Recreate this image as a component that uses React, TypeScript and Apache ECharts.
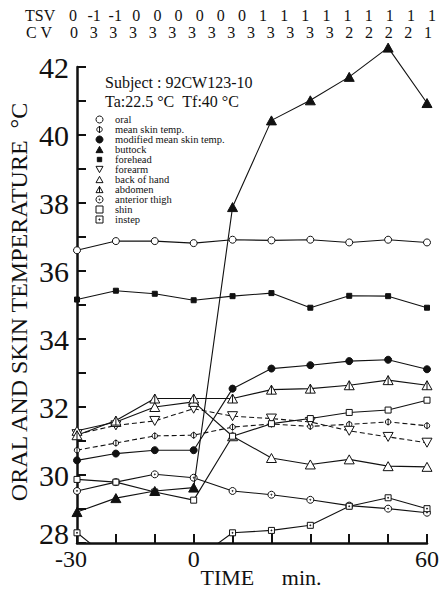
import React, { useEffect, useRef } from "react";
import * as echarts from "echarts";

const times = [-30, -20, -10, 0, 10, 20, 30, 40, 50, 60];
const oral = [36.61, 36.88, 36.88, 36.82, 36.92, 36.9, 36.92, 36.84, 36.92, 36.84];
const meanSkin = [30.73, 30.94, 31.15, 31.17, 31.41, 31.5, 31.43, 31.49, 31.56, 31.45];
const modifiedMeanSkin = [30.43, 30.63, 30.73, 30.73, 32.54, 33.13, 33.23, 33.35, 33.39, 33.11];
const buttock = [28.91, 29.32, 29.53, 29.63, 37.88, 40.43, 41.02, 41.71, 42.57, 40.94];
const forehead = [35.16, 35.42, 35.33, 35.14, 35.26, 35.35, 34.92, 35.27, 35.26, 34.92];
const forearm = [31.2, 31.46, 31.59, 31.95, 31.73, 31.66, 31.56, 31.3, 31.12, 30.95];
const backOfHand = [31.3, 31.56, 32.0, 32.15, 31.14, 30.5, 30.31, 30.46, 30.26, 30.24];
const abdomen = [31.17, 31.6, 32.25, 32.25, 32.25, 32.51, 32.54, 32.64, 32.79, 32.64];
const anteriorThigh = [29.53, 29.79, 30.02, 29.92, 29.53, 29.42, 29.27, 29.1, 29.01, 28.89];
const shin = [29.87, 29.79, 29.5, 29.26, 31.14, 31.51, 31.66, 31.84, 31.91, 32.2];
const instep = [28.3, 27.39, 27.35, 27.47, 28.3, 28.37, 28.52, 29.08, 29.33, 29.01];

const tsvValues = ["0", "-1", "-1", "0", "0", "0", "0", "0", "0", "1", "1", "1", "1", "1", "1", "1", "1", "1"];
const cvValues = ["0", "3", "3", "3", "3", "3", "3", "3", "3", "3", "3", "3", "3", "3", "2", "2", "2", "2", "1"];
const xLabelValues = [-30, 0, 60];

const SERIF = '"Liberation Serif", "DejaVu Serif", serif';
const INK = "#111";

const SYM = {
  phi: "path://M5,0 A5,5 0 1,1 4.99,0 Z M5,-1.5 L5,11.5",
  invTri: "path://M0,0 L10,0 L5,9 Z",
  tri: "path://M5,0 L10,9 L0,9 Z",
  triBar: "path://M5,0 L10,9 L0,9 Z M5,0 L5,9",
  dotCircle: "path://M5,0 A5,5 0 1,1 4.99,0 Z M5,4.3 A0.7,0.7 0 1,1 4.99,4.3 Z",
  square: "path://M0,0 L10,0 L10,10 L0,10 Z",
  dotSquare: "path://M0,0 L10,0 L10,10 L0,10 Z M4.3,4.3 L5.7,4.3 L5.7,5.7 L4.3,5.7 Z",
  fTri: "path://M5,0 L10,9 L0,9 Z",
  fSquare: "path://M0,0 L10,0 L10,10 L0,10 Z",
  smallSquare: "path://M-3,-3 M13,13 M0,0 L10,0 L10,10 L0,10 Z",
};

type Def = {
  name: string;
  values: number[];
  symbol: string;
  icon?: string;
  size: number;
  filled: boolean;
  dashed?: boolean;
  clip?: boolean;
};

const defs: Def[] = [
  { name: "oral", values: oral, symbol: "circle", size: 7, filled: false },
  { name: "mean skin temp.", values: meanSkin, symbol: SYM.phi, size: 7, filled: false, dashed: true },
  { name: "modified mean skin temp.", values: modifiedMeanSkin, symbol: "circle", size: 7, filled: true },
  { name: "buttock", values: buttock, symbol: SYM.fTri, size: 10, filled: true, clip: false },
  { name: "forehead", values: forehead, symbol: SYM.fSquare, icon: SYM.smallSquare, size: 5, filled: true },
  { name: "forearm", values: forearm, symbol: SYM.invTri, size: 10, filled: false, dashed: true },
  { name: "back of hand", values: backOfHand, symbol: SYM.tri, size: 10, filled: false },
  { name: "abdomen", values: abdomen, symbol: SYM.triBar, size: 10, filled: false },
  { name: "anterior thigh", values: anteriorThigh, symbol: SYM.dotCircle, size: 7, filled: false },
  { name: "shin", values: shin, symbol: SYM.square, size: 6, filled: false },
  { name: "instep", values: instep, symbol: SYM.dotSquare, size: 6, filled: false, clip: true },
];

export default function App() {
  const ref = useRef<HTMLDivElement>(null);

  useEffect(() => {
    document.body.style.margin = "0";
    if (!ref.current) return;
    const chart = echarts.init(ref.current, undefined, { renderer: "svg" });

    const series = defs.map((d) => ({
      name: d.name,
      type: "line",
      data: times.map((t, i) => [t, d.values[i]]),
      symbol: d.symbol,
      symbolSize: d.size,
      symbolKeepAspect: true,
      clip: d.clip === undefined ? false : d.clip,
      lineStyle: { color: INK, width: 1.1, type: d.dashed ? [5, 3] : "solid" },
      itemStyle: { color: d.filled ? INK : "#fff", borderColor: INK, borderWidth: 1 },
      emphasis: { disabled: true },
      z: d.filled ? 3 : 2,
    }));

    const slots = (n: number, x0: number, x1: number) =>
      Array.from({ length: n }, (_, i) => x0 + (i * (x1 - x0)) / (n - 1));
    const tsvX = slots(tsvValues.length, 73, 432);
    const cvX = slots(cvValues.length, 74, 428);

    const rowText = (txt: string, x: number, y: number, align = "center") => ({
      type: "text",
      x,
      y,
      silent: true,
      style: { text: txt, font: `16px ${SERIF}`, fill: INK, textAlign: align, textVerticalAlign: "middle" },
    });

    const graphic: any[] = [
      rowText("TSV", 25, 15, "left"),
      rowText("C V", 26, 32, "left"),
      ...tsvValues.map((v, i) => rowText(v, tsvX[i], 15)),
      ...cvValues.map((v, i) => rowText(v, cvX[i], 32)),
      {
        type: "text",
        x: 105,
        y: 82,
        silent: true,
        style: { text: "Subject : 92CW123-10", font: `16px ${SERIF}`, fill: INK, textVerticalAlign: "middle" },
      },
      {
        type: "text",
        x: 105,
        y: 101,
        silent: true,
        style: { text: "Ta:22.5 °C\u00a0\u00a0Tf:40 °C", font: `16px ${SERIF}`, fill: INK, textVerticalAlign: "middle" },
      },
      {
        type: "text",
        x: 19,
        y: 302,
        rotation: Math.PI / 2,
        silent: true,
        style: {
          text: "ORAL AND SKIN TEMPERATURE\u00a0\u00a0°C",
          font: `24px ${SERIF}`,
          fill: INK,
          textAlign: "center",
          textVerticalAlign: "middle",
        },
      },
      {
        type: "text",
        x: 261,
        y: 577,
        silent: true,
        style: {
          text: "TIME\u00a0\u00a0\u00a0\u00a0\u00a0min.",
          font: `22px ${SERIF}`,
          fill: INK,
          textAlign: "center",
          textVerticalAlign: "middle",
        },
      },
    ];

    chart.setOption({
      animation: false,
      backgroundColor: "#fff",
      grid: { left: 77, right: 11, top: 67, bottom: 47, containLabel: false },
      xAxis: {
        type: "value",
        min: -30,
        max: 60,
        interval: 10,
        splitLine: { show: false },
        axisLine: { onZero: false, lineStyle: { color: INK, width: 2.5 } },
        axisTick: { inside: true, length: 9, lineStyle: { color: INK, width: 2 } },
        axisLabel: {
          color: INK,
          fontFamily: SERIF,
          fontSize: 24,
          margin: 4,
          formatter: (v: number) =>
            xLabelValues.includes(v) ? (v === -30 ? `{l|${v}}` : `${v}`) : "",
          rich: { l: { fontFamily: SERIF, fontSize: 24, color: INK, padding: [0, 12, 0, 0] } },
        },
      },
      yAxis: {
        type: "value",
        min: 28,
        max: 42,
        interval: 1,
        splitLine: { show: false },
        axisLine: { onZero: false, lineStyle: { color: INK, width: 2.5 } },
        axisTick: { inside: true, length: 9, lineStyle: { color: INK, width: 2 } },
        axisLabel: {
          color: INK,
          fontFamily: SERIF,
          fontSize: 30,
          margin: 8,
          formatter: (v: number) =>
            v % 2 !== 0 ? "" : v === 28 ? `{b|${v}}` : `${v}`,
          rich: { b: { fontFamily: SERIF, fontSize: 30, color: INK, padding: [0, 0, 20, 0] } },
        },
      },
      legend: {
        orient: "vertical",
        left: 95.5,
        top: 114,
        padding: 0,
        itemWidth: 7,
        itemHeight: 7,
        itemGap: -1,
        selectedMode: false,
        symbolKeepAspect: true,
        itemStyle: { borderColor: INK, borderWidth: 1 },
        textStyle: { fontFamily: SERIF, fontSize: 10.5, color: INK, padding: [0, 0, 0, 7] },
        data: defs.map((d) => ({ name: d.name, icon: d.icon || d.symbol })),
      },
      graphic,
      series,
    });

    return () => chart.dispose();
  }, []);

  return <div ref={ref} style={{ width: 442, height: 590 }} />;
}
